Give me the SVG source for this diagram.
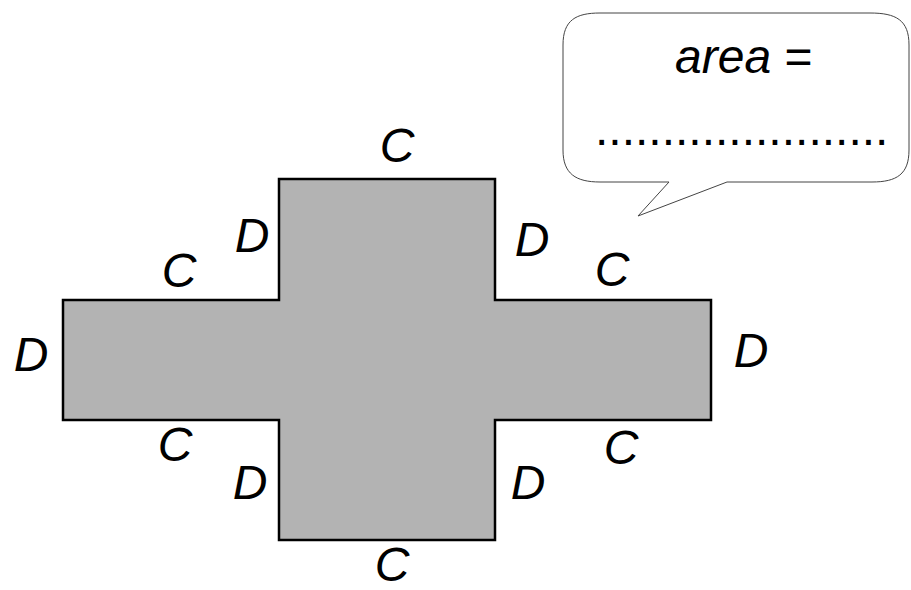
<svg xmlns="http://www.w3.org/2000/svg" width="911" height="590" viewBox="0 0 911 590">
<style>
.lbl{font-family:"Liberation Sans",Arial,sans-serif;font-size:48px;font-style:italic;fill:#000;text-anchor:middle}
.txt{font-family:"Liberation Sans",Arial,sans-serif;font-size:48px;fill:#000}
</style>
<rect width="911" height="590" fill="#fff"/>
<g id="cross">
<path d="M279,179 H495 V300 H711 V420 H495 V540 H279 V420 H63 V300 H279 Z" fill="#b3b3b3" stroke="#000" stroke-width="2.5"/>
</g>
<g id="labels">
<text class="lbl" x="397" y="162">C</text>
<text class="lbl" x="252" y="252">D</text>
<text class="lbl" x="532" y="256">D</text>
<text class="lbl" x="612" y="286">C</text>
<text class="lbl" x="751" y="367">D</text>
<text class="lbl" x="31" y="371">D</text>
<text class="lbl" x="179" y="287">C</text>
<text class="lbl" x="175" y="461">C</text>
<text class="lbl" x="250" y="499">D</text>
<text class="lbl" x="392" y="581">C</text>
<text class="lbl" x="621" y="464">C</text>
<text class="lbl" x="528" y="499">D</text>
</g>
<g id="bubble">
<path d="M600,13 L870,13 C896,13 909,20 909,45 L909,150 C909,174 897,182 872,182 L727,182 L638,216 L669,182 L600,182 C576,182 563,174 563,150 L563,45 C563,20 576,13 600,13 Z" fill="#fff" stroke="#444" stroke-width="1"/>
<text class="txt" x="675" y="73"><tspan font-style="italic">area</tspan> =</text>
<text class="txt" x="595" y="145">......................</text>
</g>
</svg>
